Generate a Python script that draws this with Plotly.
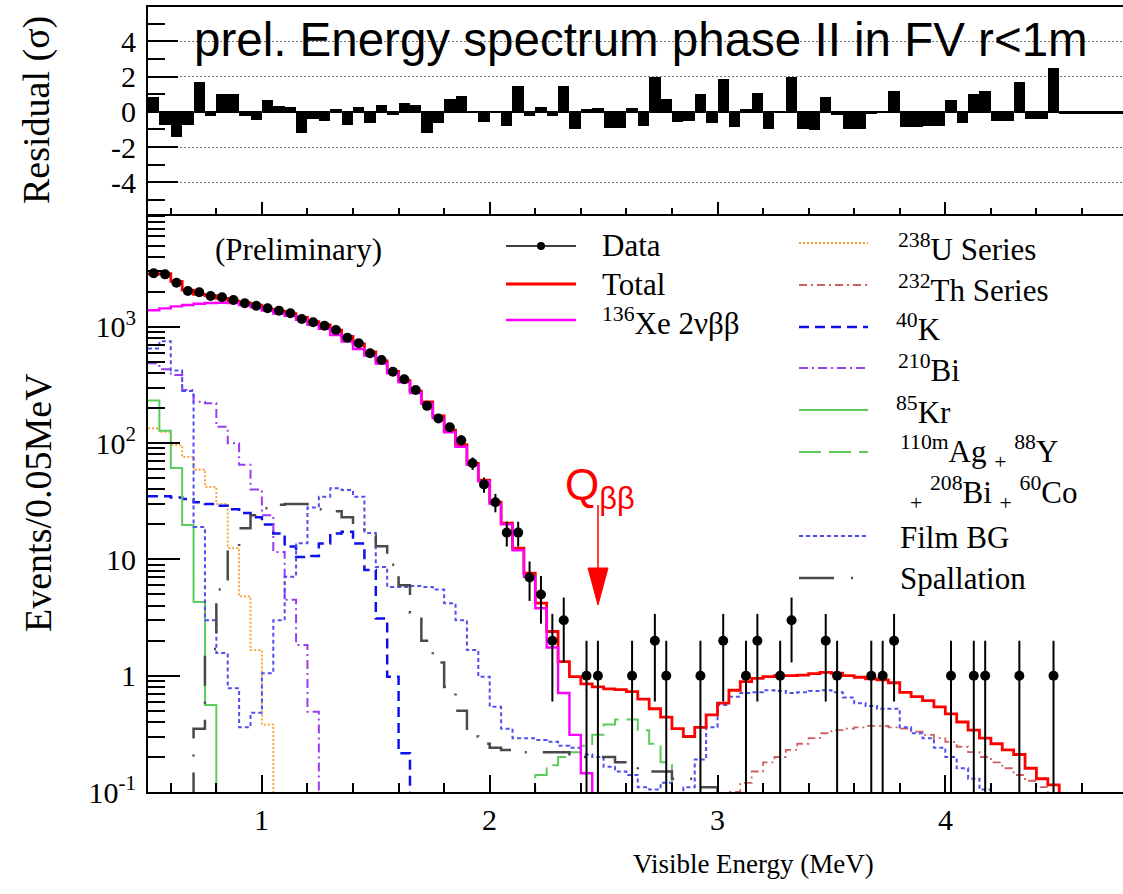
import numpy as np
import plotly.graph_objects as go
from plotly.subplots import make_subplots

# ---------------- binning (0.05 MeV bins from 0.5 MeV) ----------------
E_MIN, BIN_W, N_BINS = 0.5, 0.05, 86
edges = np.round(E_MIN + BIN_W * np.arange(N_BINS + 1), 4)
centers = np.round(edges[:-1] + BIN_W / 2, 4)

# ---------------- observed events per bin ----------------
data_counts = [
    2884, 2826, 2393, 2031, 1980, 1841, 1795, 1701, 1593, 1519,
    1443, 1375, 1306, 1166, 1093, 1022, 938, 805, 721, 592,
    518, 411, 354, 286, 209, 163, 137, 106, 67, 44,
    31, 17, 17, 7, 5, 2, 3, 0, 1, 1,
    0, 0, 1, 0, 2, 1, 0, 0, 1, 0,
    2, 0, 1, 2, 0, 1, 3, 0, 0, 2,
    1, 0, 0, 1, 1, 2, 0, 0, 0, 0,
    1, 0, 1, 1, 0, 0, 1, 0, 0, 1,
    0, 0, 0, 0, 0, 0]
data_err = [
    53.7, 53.2, 48.9, 45.1, 44.5, 42.9, 42.4, 41.2, 39.9, 39.0,
    38.0, 37.1, 36.1, 34.1, 33.1, 32.0, 30.6, 28.4, 26.9, 24.3,
    22.8, 20.3, 18.8, 16.9, 14.5, 12.8, 11.7, 10.3, 8.2, 6.6,
    5.6, 4.1, 4.1, 2.6, 2.2, 1.4, 1.7, 0, 1, 1,
    0, 0, 1, 0, 1.4, 1, 0, 0, 1, 0,
    1.4, 0, 1, 1.4, 0, 1, 1.7, 0, 0, 1.4,
    1, 0, 0, 1, 1, 1.4, 0, 0, 0, 0,
    1, 0, 1, 1, 0, 0, 1, 0, 0, 1,
    0, 0, 0, 0, 0, 0]

# ---------------- fitted model components ----------------
total = [
    2840, 2866, 2463, 2065, 1904, 1852, 1753, 1660, 1603, 1537,
    1418, 1363, 1296, 1207, 1106, 1038, 934, 826, 713, 608,
    509, 414, 345, 280, 226, 171, 129, 97, 67, 48,
    31, 20.5, 12.5, 7.6, 4.2, 2.4, 1.32, 0.98, 0.85, 0.80,
    0.77, 0.76, 0.73, 0.63, 0.52, 0.44, 0.35, 0.30, 0.36, 0.46,
    0.58, 0.75, 0.89, 0.95, 0.98, 1.00, 1.00, 1.01, 1.04, 1.07,
    1.05, 1.00, 0.97, 0.94, 0.92, 0.87, 0.72, 0.66, 0.61, 0.54,
    0.47, 0.40, 0.34, 0.29, 0.26, 0.23, 0.21, 0.16, 0.13, 0.115,
    0.06, 0.05, 0.04, 0.03, 0.03, 0.02]
xe136_2nbb = [
    1390, 1440, 1500, 1540, 1580, 1600, 1610, 1600, 1540, 1470,
    1380, 1302, 1241, 1151, 1038, 963, 850, 746, 645, 567,
    484, 398, 333, 270, 218, 164, 124, 93, 65, 47,
    30, 20, 12, 7.1, 3.8, 1.75, 0.71, 0.31, 0.145, 0.05,
    0.015] + [0] * 45
u238 = [134, 125, 96, 76, 59, 42, 30, 12.5, 4.8, 1.66, 0.38] + [0] * 75
th232 = [0] * 51 + [
    0.10, 0.12, 0.15, 0.18, 0.20, 0.23, 0.26, 0.29, 0.32, 0.34,
    0.35, 0.36, 0.37, 0.37, 0.36, 0.35, 0.33, 0.31, 0.29, 0.27,
    0.245, 0.22, 0.20, 0.18, 0.16, 0.14, 0.125, 0.11, 0.095, 0.04,
    0, 0, 0, 0, 0]
k40 = [
    35, 35, 34, 33, 31, 30, 29, 27, 25, 23,
    20, 16.7, 12.9, 10.5, 10.7, 13.7, 16.7, 17.3, 13.7, 8.1,
    3.1, 0.98, 0.215] + [0] * 63
bi210 = [485, 431, 385, 286, 227, 220, 138, 99.5, 65, 40,
         24, 11.6, 4.5, 1.84, 0.49] + [0] * 71
kr85 = [232, 128, 61, 19.8, 4.3, 0.56] + [0] * 80
ag_y_bi_co = [0] * 33 + [0.08, 0.14, 0.17, 0.20, 0.22, 0.25, 0.31, 0.38,
                         0.42, 0.42, 0.34, 0.26, 0.18, 0.09] + [0] * 39
film_bg = [
    650, 750, 420, 280, 19, 3.0, 1.57, 0.78, 0.36, 0.48,
    1.05, 3.0, 7.1, 13.8, 28, 34.6, 40.9, 39.5, 34.6, 16.9,
    8.6, 5.8, 5.8, 5.9, 5.8, 5.5, 4.2, 3.0, 1.66, 0.98,
    0.54, 0.35, 0.29, 0.29, 0.28, 0.27, 0.25, 0.24, 0.21, 0.20,
    0.165, 0.15, 0.14, 0.11, 0.105, 0.12, 0.09, 0.11, 0.19, 0.36,
    0.56, 0.66, 0.71, 0.72, 0.75, 0.74, 0.71, 0.72, 0.74, 0.75,
    0.72, 0.65, 0.58, 0.55, 0.52, 0.52, 0.36, 0.32, 0.29, 0.24,
    0.20, 0.16, 0.13, 0.105, 0.08, 0.06, 0.05, 0.04, 0.03, 0.03,
    0.02, 0.02, 0.01, 0.01, 0.01, 0.01]
spallation = [
    0, 0, 0, 0, 0.35, 1.7, 5.5, 12, 18.5, 24,
    27.5, 29.5, 30, 30, 29, 27, 26, 23, 20, 16,
    13, 9, 6, 3.5, 2.0, 1.3, 0.8, 0.5, 0.3, 0.26,
    0.24, 0.23, 0.22, 0.22, 0.22, 0.22, 0.22, 0.20, 0.20, 0.20,
    0.20, 0.18, 0.18, 0.15, 0.15, 0.15, 0.13, 0.13, 0.11, 0.11,
    0.09, 0.08, 0.07, 0.06, 0.05] + [0] * 31

# ---------------- residuals (data - fit) / sigma ----------------
residuals = [
    0.82, -0.75, -1.43, -0.75, 1.7, -0.25, 1.0, 1.0, -0.25, -0.45,
    0.67, 0.33, 0.27, -1.2, -0.4, -0.5, 0.14, -0.75, 0.3, -0.65,
    0.4, -0.16, 0.5, 0.37, -1.2, -0.65, 0.73, 0.92, 0.02, -0.6,
    0.02, -0.8, 1.45, -0.25, 0.3, -0.25, 1.45, -1.0, 0.14, 0.2,
    -0.9, -0.9, 0.24, -0.8, 2.0, 0.73, -0.6, -0.5, 1.0, -0.65,
    1.86, -0.84, 0.14, 1.08, -1.0, 0.02, 2.0, -1.0, -1.04, 0.82,
    -0.16, -1.0, -1.0, -0.1, 0.02, 1.18, -0.84, -0.84, -0.78, -0.78,
    0.69, -0.65, 1.0, 1.2, -0.5, -0.5, 1.7, -0.4, -0.4, 2.5,
    -0.1, -0.1, -0.1, -0.1, -0.1, -0.1]

# axis labels
res_tickvals = [-4, -2, 0, 2, 4]
res_ticktext = ["-4", "-2", "0", "2", "4"]
log_tickvals = [0.1, 1, 10, 100, 1000]
log_ticktext = ["10<sup>-1</sup>", "1", "10", "10<sup>2</sup>", "10<sup>3</sup>"]
x_tickvals = [1, 2, 3, 4]
x_ticktext = ["1", "2", "3", "4"]

SERIF = "Liberation Serif"
SANS = "Liberation Sans"
FLOOR = 1e-4  # empty bins drop below the axis on the log scale

fig = make_subplots(rows=2, cols=1, shared_xaxes=False,
                    row_heights=[0.2637, 0.7363], vertical_spacing=0)

# residual histogram
fig.add_trace(go.Bar(x=centers, y=residuals, width=BIN_W,
                     marker=dict(color="black", line=dict(width=0)),
                     hoverinfo="skip"), row=1, col=1)


def step_trace(values, color, width, dash):
    v = [x if x > 0 else FLOOR for x in values]
    return go.Scatter(x=edges, y=v + [v[-1]], mode="lines", line_shape="hv",
                      line=dict(color=color, width=width, dash=dash),
                      hoverinfo="skip")


styles = {
    "u238": ("#ff9a2e", 1.8, "2px,2px"),
    "th232": ("#cf6060", 1.8, "8px,4px,2px,4px"),
    "k40": ("#1010ee", 2.5, "10px,6px"),
    "bi210": ("#9b3cf2", 2.0, "9px,4px,2px,4px"),
    "kr85": ("#5ccc5c", 2.0, "solid"),
    "ag": ("#5ccc5c", 2.0, "22px,8px"),
    "film": ("#5050f0", 2.0, "4px,3px"),
    "spall": ("#4a4a4a", 2.5, "30px,16px,2px,16px"),
    "total": ("#ff0000", 2.8, "solid"),
    "xe": ("#ff00ff", 2.4, "solid"),
}
for vals, key in [(u238, "u238"), (th232, "th232"), (k40, "k40"),
                  (bi210, "bi210"), (kr85, "kr85"), (ag_y_bi_co, "ag"),
                  (film_bg, "film"), (spallation, "spall"),
                  (total, "total"), (xe136_2nbb, "xe")]:
    c, w, d = styles[key]
    fig.add_trace(step_trace(vals, c, w, d), row=2, col=1)

# data points with statistical errors
mask = [n > 0 for n in data_counts]
dx = [c for c, m in zip(centers, mask) if m]
dy = [n for n, m in zip(data_counts, mask) if m]
de = [e for e, m in zip(data_err, mask) if m]
fig.add_trace(go.Scatter(x=dx, y=dy, mode="markers",
                         marker=dict(color="black", size=10, symbol="circle"),
                         error_y=dict(type="data", array=de, arrayminus=de,
                                      color="black", thickness=2, width=0),
                         hoverinfo="skip"), row=2, col=1)

axis_common = dict(showline=True, linecolor="black", linewidth=2,
                   tickcolor="black", tickwidth=1.5, showgrid=False,
                   zeroline=False,
                   tickfont=dict(family=SERIF, size=30, color="black"))

fig.update_xaxes(range=[0.5, 4.78], tickmode="array", tickvals=x_tickvals,
                 ticks="inside", ticklen=12, showticklabels=False, mirror=True,
                 minor=dict(ticks="inside", ticklen=6, dtick=0.2, tick0=0,
                            tickcolor="black", tickwidth=1.5),
                 row=1, col=1, **axis_common)
fig.update_xaxes(range=[0.5, 4.78], tickmode="array", tickvals=x_tickvals,
                 ticks="inside", ticklen=17, mirror=False,
                 showticklabels=False,
                 minor=dict(ticks="inside", ticklen=9, dtick=0.2, tick0=0,
                            tickcolor="black", tickwidth=1.5),
                 row=2, col=1, **axis_common)

res_axis = dict(axis_common)
res_axis.update(showgrid=True, gridcolor="#777777", griddash="2px,2px",
                gridwidth=1, zeroline=True, zerolinecolor="black",
                zerolinewidth=2)
fig.update_yaxes(range=[-5.8, 5.95], tickmode="array", tickvals=res_tickvals,
                 ticktext=res_ticktext, ticks="inside", ticklen=30,
                 ticklabelstandoff=4,
                 minor=dict(ticks="inside", ticklen=17,
                            tickvals=[-5, -3, -1, 1, 3, 5],
                            tickcolor="black", tickwidth=1.5),
                 row=1, col=1, **res_axis)

minor_log = [m * 10.0 ** p for p in range(-1, 4) for m in range(2, 10)]
fig.update_yaxes(type="log", range=[-1, 3.97], tickmode="array",
                 tickvals=log_tickvals, ticktext=log_ticktext,
                 ticks="inside", ticklen=32, ticklabelstandoff=4,
                 minor=dict(ticks="inside", ticklen=17, tickvals=minor_log,
                            tickcolor="black", tickwidth=1.5),
                 row=2, col=1, **axis_common)

# ---------------- pixel helpers for decorations ----------------
L, R, T, B = 148, 1123, 7, 792


def px(xp):
    return (xp - L) / (R - L)


def py(yp):
    return (B - yp) / (B - T)


annotations = []

# energy tick labels placed just under the axis
for v, t in zip(x_tickvals, x_ticktext):
    annotations.append(dict(x=v, y=py(819), xref="x2", yref="paper", text=t,
                            showarrow=False, xanchor="center",
                            yanchor="middle",
                            font=dict(family=SERIF, size=30, color="black")))


def text(x, y, s, size, family=SERIF, color="black", xanchor="left",
         angle=0):
    annotations.append(dict(x=px(x), y=py(y), xref="paper", yref="paper",
                            text=s, showarrow=False, xanchor=xanchor,
                            yanchor="middle", textangle=angle,
                            font=dict(family=family, size=size, color=color)))


text(641, 40, "prel. Energy spectrum phase II in FV r&lt;1m", 47.5,
     family=SANS, xanchor="center")
text(37, 110, "Residual (σ)", 38, xanchor="center", angle=-90)
text(38, 503, "Events/0.05MeV", 38, xanchor="center", angle=-90)
text(753, 864, "Visible Energy (MeV)", 27, xanchor="center")
text(213, 249, "(Preliminary)", 31)
text(563, 488, "Q<sub>ββ</sub>", 44, family=SANS, color="#ff0000")

LEG = 31
text(600, 245, "Data", LEG)
text(600, 284, "Total", LEG)
text(600, 321, "<sup>136</sup>Xe 2νββ", LEG)
text(896, 247, "<sup>238</sup>U Series", LEG)
text(896, 288, "<sup>232</sup>Th Series", LEG)
text(894, 327, "<sup>40</sup>K", LEG)
text(896, 368, "<sup>210</sup>Bi", LEG)
text(894, 410, "<sup>85</sup>Kr", LEG)
text(898, 452, "<sup>110m</sup>Ag <sub>+</sub> <sup>88</sup>Y", LEG)
text(908, 493, "<sub>+</sub> <sup>208</sup>Bi <sub>+</sub> <sup>60</sup>Co", LEG)
text(898, 537, "Film BG", LEG)
text(898, 578, "Spallation", LEG)

shapes = []


def hline(x0, x1, y, color, width, dash="solid"):
    shapes.append(dict(type="line", xref="paper", yref="paper",
                       x0=px(x0), x1=px(x1), y0=py(y), y1=py(y),
                       line=dict(color=color, width=width, dash=dash)))


hline(506, 576, 246, "black", 1.5)
shapes.append(dict(type="circle", xref="paper", yref="paper",
                   x0=px(537), x1=px(545), y0=py(250), y1=py(242),
                   fillcolor="black", line=dict(color="black", width=0)))
hline(506, 576, 284, *styles["total"][:2])
hline(506, 576, 320, *styles["xe"][:2])
for key, y in [("u238", 243), ("th232", 285), ("k40", 327), ("bi210", 368),
               ("kr85", 410), ("ag", 452), ("film", 536)]:
    c, w, d = styles[key]
    hline(799, 868, y, c, w, d)
hline(799, 834, 578, "#4a4a4a", 2.5)
hline(851, 853, 578, "#4a4a4a", 2.5)

# Q-value arrow
shapes.append(dict(type="line", xref="paper", yref="paper",
                   x0=px(598), x1=px(598), y0=py(505), y1=py(572),
                   line=dict(color="#ff0000", width=1.5)))
shapes.append(dict(type="path", xref="paper", yref="paper",
                   path=f"M {px(588)},{py(568)} L {px(608)},{py(568)} "
                        f"L {px(598)},{py(605)} Z",
                   fillcolor="#ff0000", line=dict(color="#ff0000", width=1)))

fig.update_layout(width=1123, height=894, showlegend=False,
                  margin=dict(l=L, r=1123 - R, t=T, b=894 - B, pad=0),
                  paper_bgcolor="white", plot_bgcolor="white",
                  bargap=0, annotations=annotations, shapes=shapes)

fig.write_html("out.html")
